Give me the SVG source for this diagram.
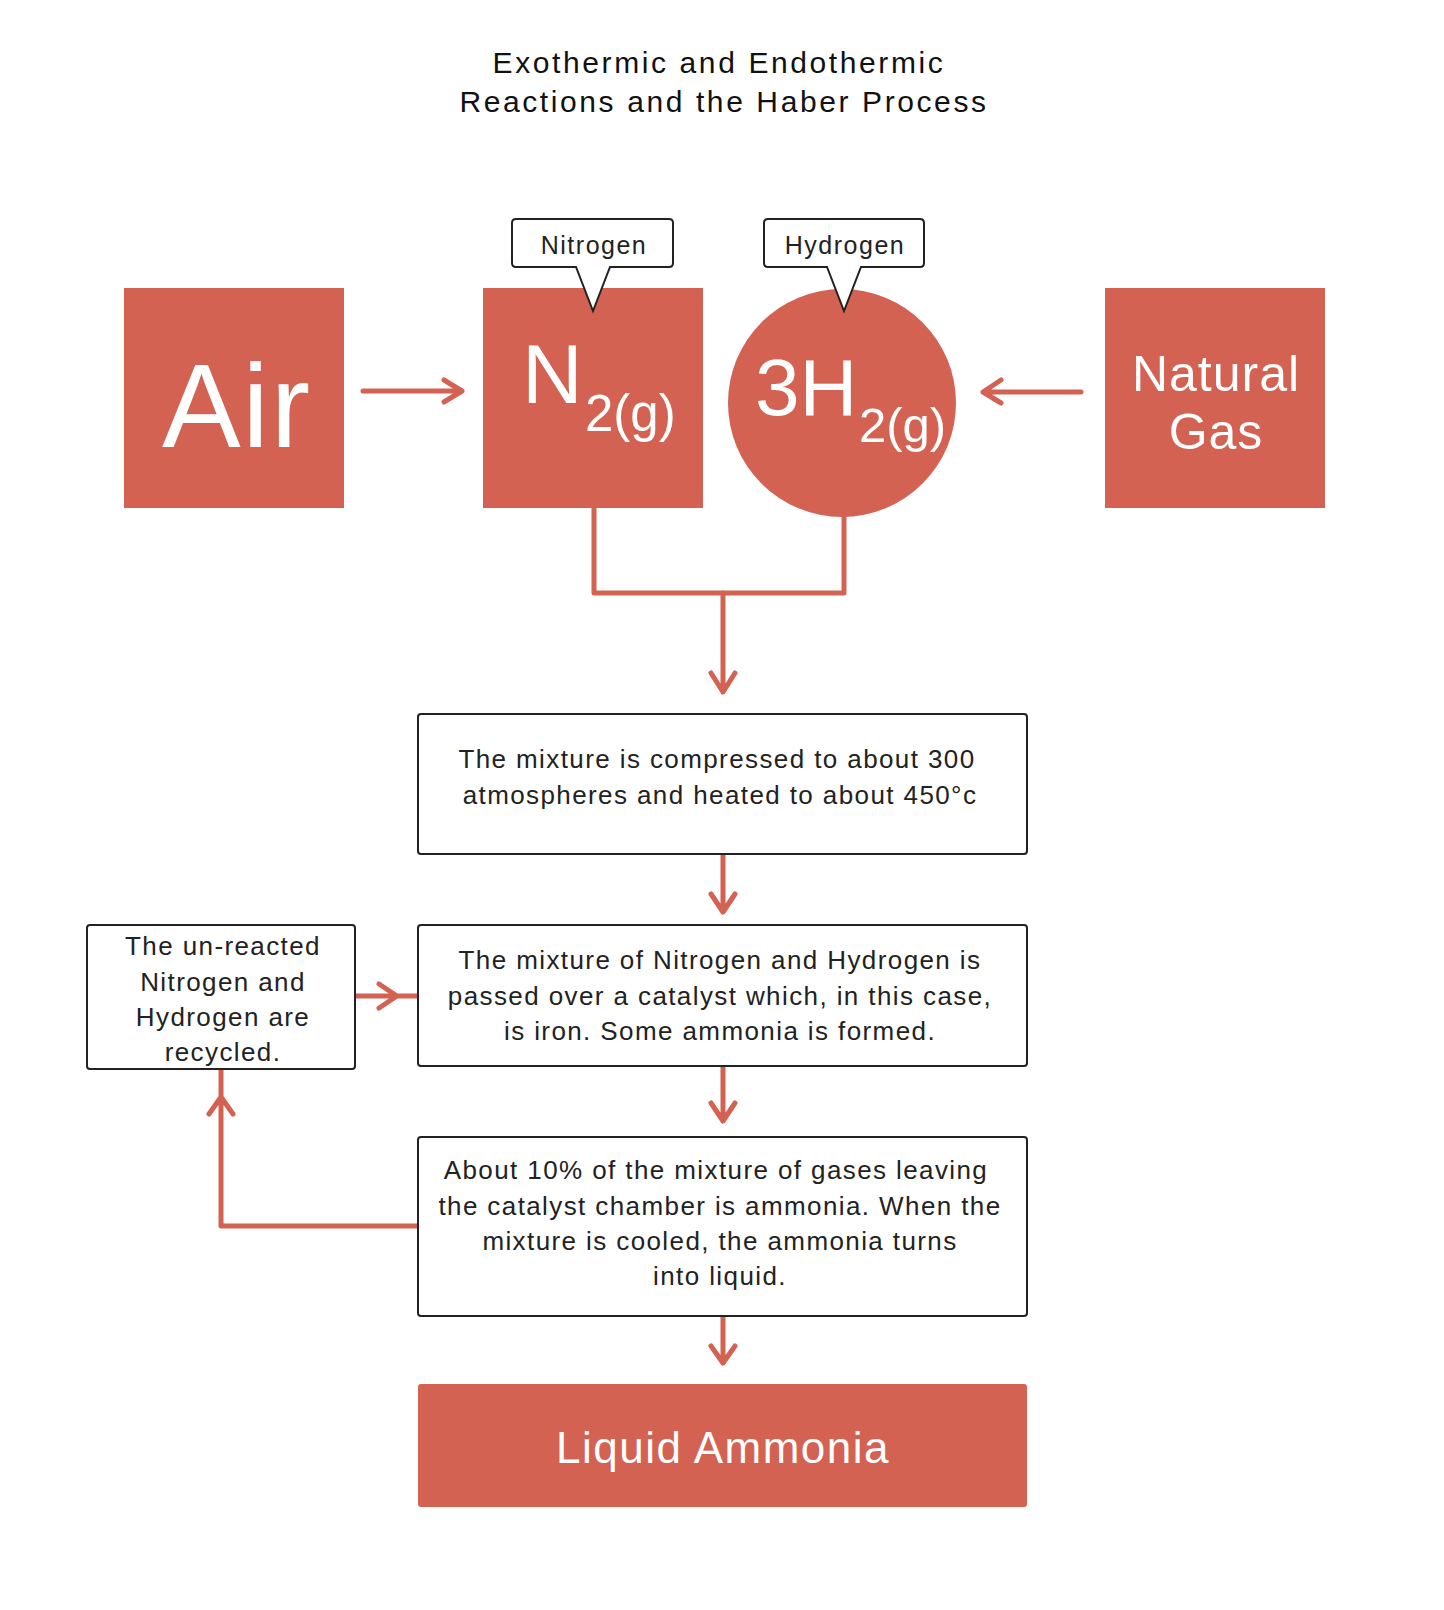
<svg xmlns="http://www.w3.org/2000/svg" width="1444" height="1610" viewBox="0 0 1444 1610">
<style>
.fill{fill:#D36253}
.box{fill:#fff;stroke:#222;stroke-width:2}
.conn{fill:none;stroke:#D36253;stroke-width:5;stroke-linecap:round;stroke-linejoin:round}
.wt{fill:#fff;font-family:"Liberation Sans",Arial,sans-serif}
.bt{fill:#222;font-family:"Liberation Sans",Arial,sans-serif;font-size:26px;letter-spacing:1.4px;text-anchor:middle}
.ct{fill:#222;font-family:"Liberation Sans",Arial,sans-serif;font-size:25px;letter-spacing:1.5px;text-anchor:middle}
.title{fill:#111;font-family:"Liberation Sans",Arial,sans-serif;font-size:30px;letter-spacing:2.6px;text-anchor:middle}
</style>
<rect width="1444" height="1610" fill="#fff"/>
<g id="title">
<text class="title" x="719" y="73">Exothermic and Endothermic</text>
<text class="title" x="724" y="112">Reactions and the Haber Process</text>
</g>
<g id="connectors">
<path class="conn" d="M363,391 H462 M444,380 L462,391 L444,402"/>
<path class="conn" d="M1081,392 H983 M1001,380 L983,392 L1001,403"/>
<path class="conn" d="M594,508 V593 H844 V516" stroke-linecap="butt"/>
<path class="conn" d="M723,593 V692 M711,673 L723,692 L735,673"/>
<path class="conn" d="M723,854 V912 M711,894 L723,912 L735,894"/>
<path class="conn" d="M723,1066 V1121 M711,1103 L723,1121 L735,1103"/>
<path class="conn" d="M723,1316 V1363 M711,1346 L723,1363 L735,1346"/>
<path class="conn" d="M418,1226 H221 V1069 M209,1114 L221,1097 L233,1114"/>
<path class="conn" d="M355,996 H418 M379,984 L397,996 L379,1008"/>
</g>
<g id="air">
<rect class="fill" x="124" y="288" width="220" height="220"/>
<text class="wt" x="237" y="447" font-size="118" letter-spacing="2" text-anchor="middle">Air</text>
</g>
<g id="n2">
<rect class="fill" x="483" y="288" width="220" height="220"/>
<text class="wt" x="522" y="403" font-size="84">N</text>
<text class="wt" x="585" y="431" font-size="51">2(g)</text>
</g>
<g id="h2">
<circle class="fill" cx="842" cy="403" r="114"/>
<text class="wt" x="755" y="415" font-size="80">3H</text>
<text class="wt" x="859" y="442" font-size="49">2(g)</text>
</g>
<g id="natural-gas">
<rect class="fill" x="1105" y="288" width="220" height="220"/>
<text class="wt" x="1216" y="391" font-size="50" letter-spacing="1" text-anchor="middle">Natural</text>
<text class="wt" x="1216" y="449" font-size="50" letter-spacing="1" text-anchor="middle">Gas</text>
</g>
<g id="nitrogen-callout">
<path class="box" d="M516,219 H669 Q673,219 673,223 V263 Q673,267 669,267 H610 L593,311 L576,267 H516 Q512,267 512,263 V223 Q512,219 516,219 Z"/>
<text class="ct" x="594" y="254">Nitrogen</text>
</g>
<g id="hydrogen-callout">
<path class="box" d="M768,219 H920 Q924,219 924,223 V263 Q924,267 920,267 H861 L844,311 L827,267 H768 Q764,267 764,263 V223 Q764,219 768,219 Z"/>
<text class="ct" x="845" y="254">Hydrogen</text>
</g>
<g id="compress">
<rect class="box" x="418" y="714" width="609" height="140" rx="3"/>
<text class="bt" x="717" y="768">The mixture is compressed to about 300</text>
<text class="bt" x="720" y="804">atmospheres and heated to about 450°c</text>
</g>
<g id="catalyst">
<rect class="box" x="418" y="925" width="609" height="141" rx="3"/>
<text class="bt" x="720" y="969">The mixture of Nitrogen and Hydrogen is</text>
<text class="bt" x="720" y="1005">passed over a catalyst which, in this case,</text>
<text class="bt" x="720" y="1040">is iron. Some ammonia is formed.</text>
</g>
<g id="cooling">
<rect class="box" x="418" y="1137" width="609" height="179" rx="3"/>
<text class="bt" x="716" y="1179">About 10% of the mixture of gases leaving</text>
<text class="bt" x="720" y="1215">the catalyst chamber is ammonia. When the</text>
<text class="bt" x="720" y="1250">mixture is cooled, the ammonia turns</text>
<text class="bt" x="720" y="1285">into liquid.</text>
</g>
<g id="recycle">
<rect class="box" x="87" y="925" width="268" height="144" rx="3"/>
<text class="bt" x="223" y="955">The un-reacted</text>
<text class="bt" x="223" y="991">Nitrogen and</text>
<text class="bt" x="223" y="1026">Hydrogen are</text>
<text class="bt" x="223" y="1061">recycled.</text>
</g>
<g id="liquid-ammonia">
<rect class="fill" x="418" y="1384" width="609" height="123" rx="3"/>
<text class="wt" x="723" y="1463" font-size="44" letter-spacing="1.5" text-anchor="middle">Liquid Ammonia</text>
</g>
</svg>
